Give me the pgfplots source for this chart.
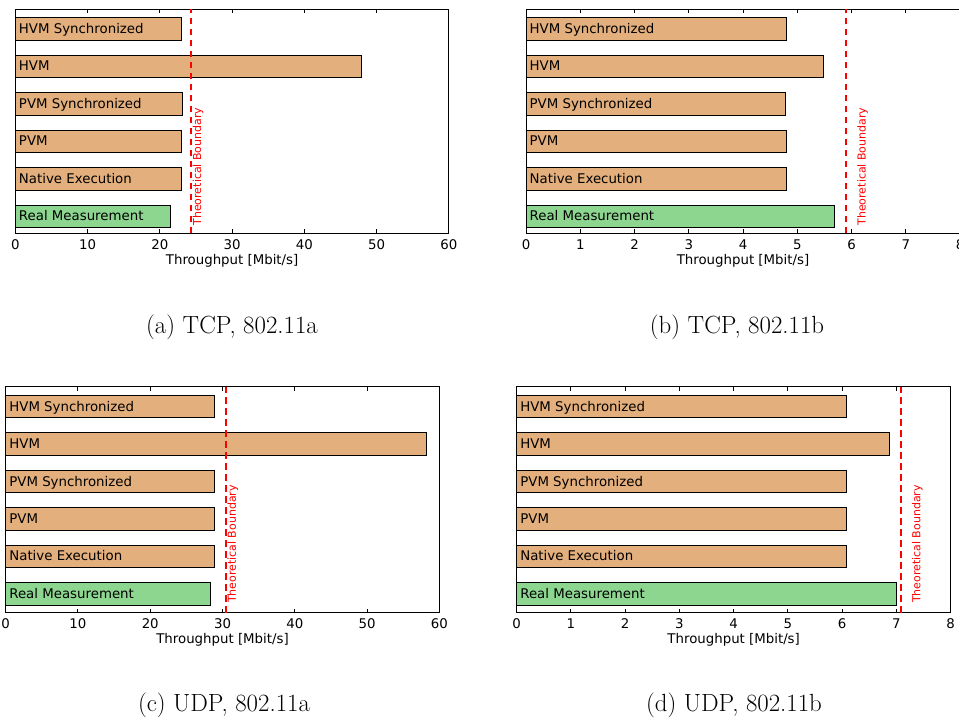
\documentclass[border=0pt]{standalone}
\usepackage{fontspec}
\usepackage{pgfplots}
\pgfplotsset{compat=1.18}
\setmainfont{Latin Modern Roman}
\newfontfamily\dejavu{DejaVu Sans}
\definecolor{bartan}{HTML}{E3AF7C}
\definecolor{bargreen}{HTML}{8CD68F}
\pgfplotsset{
  panel/.style={
    scale only axis, anchor=south west,
    xmin=0, ytick=\empty, tick align=inside, xtick pos=both,
    major tick length=2.4pt,
    axis line style={line width=0.6pt},
    every tick/.style={black, line width=0.6pt},
    tick label style={font=\dejavu\fontsize{8}{9.6}\selectfont},
    /pgf/number format/assume math mode=true,
    xticklabel style={anchor=base, yshift=-9.4pt},
    xlabel={Throughput [Mbit/s]},
    xlabel style={font=\dejavu\fontsize{8}{9.6}\selectfont, at={(axis description cs:0.5,0)}, anchor=base, yshift=-18.6pt},
    clip=false,
  },
  tanbar/.style={xbar, bar width=0.6, bar shift=0, fill=bartan, draw=black, line width=0.6pt},
  greenbar/.style={xbar, bar width=0.6, bar shift=0, fill=bargreen, draw=black, line width=0.6pt},
  bound/.style={red, line width=1.2pt, dash pattern=on 4pt off 2.6pt},
}
\tikzset{
  lbl/.style={anchor=base west, inner sep=0pt, xshift=2pt, yshift=-2.7pt, font=\dejavu\fontsize{8}{9.6}\selectfont},
  btxt/.style={rotate=90, anchor=north west, inner sep=0pt, text=red, font=\dejavu\fontsize{6.6}{8}\selectfont},
  capt/.style={anchor=base, inner sep=0pt, font=\fontsize{14.9}{17}\selectfont},
}
\newcommand\barlabels{%
  \node[lbl] at (axis cs:0,5) {HVM Synchronized};
  \node[lbl] at (axis cs:0,4) {HVM};
  \node[lbl] at (axis cs:0,3) {PVM Synchronized};
  \node[lbl] at (axis cs:0,2) {PVM};
  \node[lbl] at (axis cs:0,1) {Native Execution};
  \node[lbl] at (axis cs:0,0) {Real Measurement};
}
\begin{document}
\begin{tikzpicture}
% (a) TCP 802.11a
\begin{axis}[panel, at={(9.18pt,-140pt)}, width=260.2pt, height=134.4pt,
  xmax=60, xtick={0,10,...,60}, ymin=-0.45, ymax=5.52]
  \addplot[tanbar] coordinates {(23.0,1) (23.0,2) (23.1,3) (47.9,4) (23.0,5)};
  \addplot[greenbar] coordinates {(21.5,0)};
  \addplot[bound] coordinates {(24.3,-0.45) (24.3,5.52)};
  \barlabels
  \node[btxt] at (axis cs:24.5,-0.25) {Theoretical Boundary};
\end{axis}
% (b) TCP 802.11b
\begin{axis}[panel, at={(315.6pt,-140pt)}, width=260.4pt, height=134.4pt,
  xmax=8, xtick={0,1,...,8}, ymin=-0.45, ymax=5.52]
  \addplot[tanbar] coordinates {(4.81,1) (4.81,2) (4.79,3) (5.48,4) (4.81,5)};
  \addplot[greenbar] coordinates {(5.69,0)};
  \addplot[bound] coordinates {(5.90,-0.45) (5.90,5.52)};
  \barlabels
  \node[btxt] at (axis cs:6.1,-0.25) {Theoretical Boundary};
\end{axis}
% (c) UDP 802.11a
\begin{axis}[panel, at={(3.42pt,-367.6pt)}, width=260.2pt, height=135.6pt,
  xmax=60, xtick={0,10,...,60}, ymin=-0.5, ymax=5.53]
  \addplot[tanbar] coordinates {(28.85,1) (28.85,2) (28.85,3) (58.2,4) (28.85,5)};
  \addplot[greenbar] coordinates {(28.4,0)};
  \addplot[bound] coordinates {(30.5,-0.5) (30.5,5.53)};
  \barlabels
  \node[btxt] at (axis cs:30.65,-0.25) {Theoretical Boundary};
\end{axis}
% (d) UDP 802.11b
\begin{axis}[panel, at={(310.0pt,-367.6pt)}, width=260.4pt, height=135.6pt,
  xmax=8, xtick={0,1,...,8}, ymin=-0.5, ymax=5.53]
  \addplot[tanbar] coordinates {(6.08,1) (6.08,2) (6.08,3) (6.88,4) (6.08,5)};
  \addplot[greenbar] coordinates {(7.00,0)};
  \addplot[bound] coordinates {(7.08,-0.5) (7.08,5.53)};
  \barlabels
  \node[btxt] at (axis cs:7.28,-0.25) {Theoretical Boundary};
\end{axis}
\node[capt] at (139.2pt,-199.8pt) {(a) TCP, 802.11a};
\node[capt] at (442.2pt,-199.8pt) {(b) TCP, 802.11b};
\node[capt] at (134.4pt,-426.6pt) {(c) UDP, 802.11a};
\node[capt] at (440.4pt,-426.6pt) {(d) UDP, 802.11b};
\pgfresetboundingbox
\path[use as bounding box] (0,0) rectangle (575.4pt,-433.8pt);
\end{tikzpicture}
\end{document}
